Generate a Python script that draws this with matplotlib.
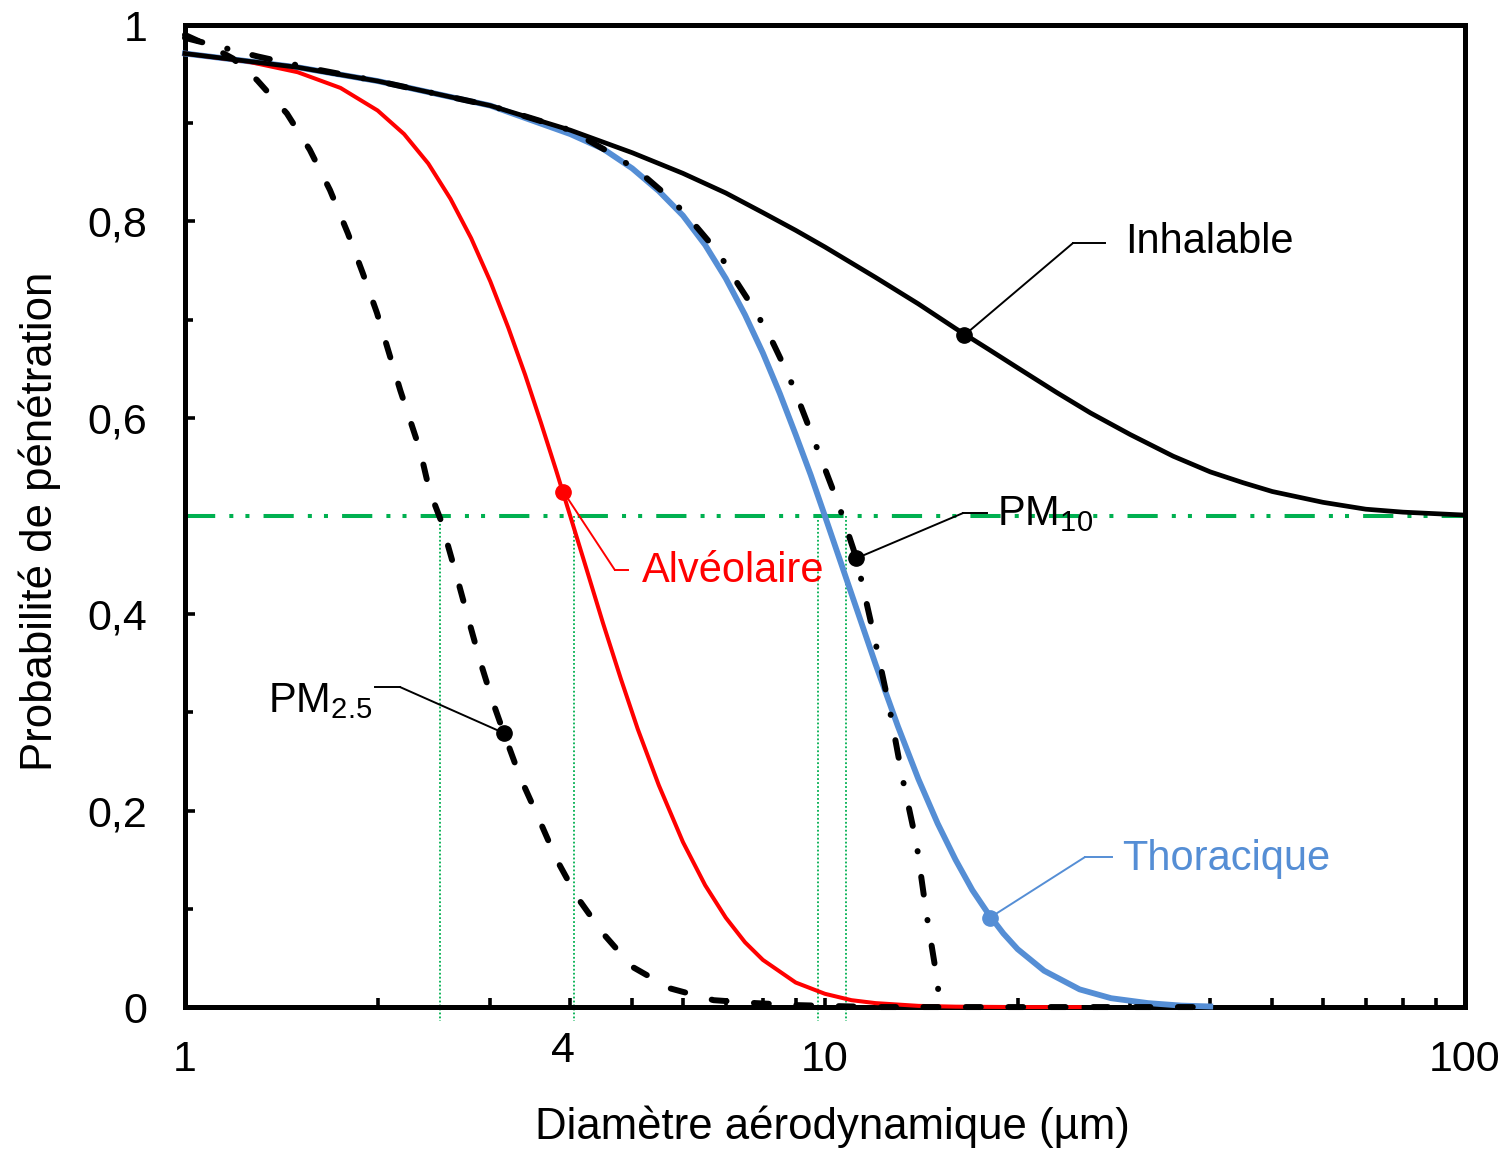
import matplotlib
matplotlib.use("Agg")
import matplotlib.pyplot as plt
from matplotlib.ticker import FixedLocator, NullFormatter
import matplotlib.transforms as mtransforms

plt.rcParams["font.family"] = ["Liberation Sans", "DejaVu Sans"]
plt.rcParams["mathtext.default"] = "regular"

# ---- data (diameter in um, penetration probability) ----
INH_D = [1, 1.5, 2, 3, 4, 5, 6, 7, 8, 9, 10, 12, 14, 16, 18, 20, 23, 26, 30,
         35, 40, 45, 50, 60, 70, 80, 100]
INH_P = [0.971, 0.957, 0.943, 0.918, 0.893, 0.870, 0.849, 0.829, 0.809, 0.791,
         0.774, 0.743, 0.716, 0.691, 0.670, 0.651, 0.626, 0.605, 0.583, 0.561,
         0.545, 0.534, 0.525, 0.514, 0.507, 0.504, 0.501]

THO_D = [1, 1.5, 2, 3, 4, 4.5, 5, 5.5, 6, 6.5, 7, 7.5, 8, 8.5, 9, 9.5, 10, 11,
         12, 13, 14, 15, 16, 17, 18, 19, 20, 22, 25, 28, 32, 36, 40]
THO_P = [0.971, 0.957, 0.943, 0.918, 0.889, 0.874, 0.854, 0.831, 0.806, 0.776,
         0.742, 0.705, 0.666, 0.625, 0.583, 0.542, 0.500, 0.421, 0.349, 0.286,
         0.232, 0.187, 0.150, 0.119, 0.095, 0.075, 0.059, 0.037, 0.018, 0.009,
         0.004, 0.0015, 0.0006]

ALV_D = [1, 1.25, 1.5, 1.75, 2, 2.2, 2.4, 2.6, 2.8, 3, 3.2, 3.4, 3.6, 3.8, 4,
         4.2, 4.5, 4.8, 5.1, 5.5, 6, 6.5, 7, 7.5, 8, 9, 10, 11, 12, 14, 16, 20, 25]
ALV_P = [0.971, 0.963, 0.952, 0.936, 0.913, 0.889, 0.859, 0.823, 0.783, 0.739,
         0.692, 0.644, 0.595, 0.547, 0.500, 0.455, 0.391, 0.334, 0.283, 0.226,
         0.168, 0.124, 0.091, 0.066, 0.048, 0.025, 0.0135, 0.007, 0.004, 0.0012,
         0.0004, 0.0, 0.0]

PM25_D = [1, 1.106, 1.188, 1.296, 1.443, 1.567, 1.685, 1.797, 1.897, 1.995,
          2.17, 2.33, 2.41, 2.51, 2.66, 2.77, 2.89, 3.03, 3.15, 3.34, 3.56, 3.81,
          4.1, 4.5, 5.0, 5.73, 6.7, 7.8, 9.0, 12, 20, 40]
PM25_P = [0.990, 0.977, 0.966, 0.944, 0.910, 0.873, 0.832, 0.788, 0.747, 0.707,
          0.628, 0.567, 0.526, 0.496, 0.438, 0.396, 0.353, 0.310, 0.279, 0.234,
          0.194, 0.150, 0.112, 0.075, 0.041, 0.019, 0.007, 0.004, 0.002, 0.0,
          0.0, 0.0]

PM10_D = [1, 1.3, 1.6, 2, 3, 4, 4.76, 5.27, 5.79, 6.31, 6.82, 7.3, 7.8, 8.3,
          8.76, 9.07, 9.45, 10.5, 11.2, 11.96, 12.6, 13.2, 13.9, 14.4, 15.0, 15.1]
PM10_P = [0.987, 0.968, 0.955, 0.943, 0.918, 0.893, 0.865, 0.844, 0.821, 0.794,
          0.768, 0.737, 0.708, 0.676, 0.644, 0.620, 0.590, 0.512, 0.457, 0.375,
          0.306, 0.235, 0.167, 0.096, 0.025, 0.0]

CUT_LEVEL = 0.5
CUT_D = [2.5, 4.05, 9.75, 10.8]

# labelled points on the curves
MARK_INH = (16.5, 0.684)
MARK_PM10 = (11.2, 0.457)
MARK_PM25 = (3.15, 0.279)
MARK_ALV = (3.9, 0.525)
MARK_THO = (18.1, 0.091)

Y_TICKS = [0, 0.2, 0.4, 0.6, 0.8, 1]
Y_TICKLABELS = ["0", "0,2", "0,4", "0,6", "0,8", "1"]
X_TICKS = [1, 10, 100]
X_TICKLABELS = ["1", "10", "100"]

BLUE = "#558ED5"
RED = "#FF0000"
GREEN = "#00B050"
FS_TICK = 31
FS_LABEL = 31.5
FS_NOTE = 30

fig = plt.figure(figsize=(15.11, 11.5), dpi=100)
ax = fig.add_axes([0.1224, 0.1243, 0.8471, 0.8539])
ax.set_xscale("log")
ax.set_xlim(1, 100)
ax.set_ylim(0, 1)

# 50 % reference lines
ax.axhline(CUT_LEVEL, color=GREEN, lw=2.9, zorder=3,
           linestyle=(0, (7.5, 3.5, 1, 3, 1, 3.5)), dash_capstyle="butt")
for d in CUT_D:
    ax.plot([d, d], [CUT_LEVEL, -0.014], color=GREEN, lw=1.3, linestyle=(0, (1, 1.2)),
            clip_on=False, zorder=2.6)

# curves
ax.plot(THO_D, THO_P, color=BLUE, lw=4.2, zorder=4, clip_on=False)
ax.plot(ALV_D, ALV_P, color=RED, lw=2.9, zorder=4.2, clip_on=False)
ax.plot(INH_D, INH_P, color="black", lw=3.4, zorder=4.4, clip_on=False)
ax.plot(PM25_D, PM25_P, color="black", lw=4.3, zorder=4.6, clip_on=False,
        linestyle=(0, (2.5, 4.6)), dash_capstyle="round")
ax.plot(PM10_D, PM10_P, color="black", lw=4.3, zorder=4.6, clip_on=False,
        linestyle=(0, (3.0, 4.3, 0.05, 4.3)), dash_capstyle="round")

# labels with leader lines: marker, elbow (axes frac), end of tail, text position
labels = [
    (MARK_INH, "black", (0.6938, 0.778), 0.7188, (0.7344, 0.768), "Inhalable", "left"),
    (MARK_PM10, "black", (0.6078, 0.503), 0.6266, (0.6344, 0.4908), "PM$_{10}$", "left"),
    (MARK_PM25, "black", (0.168, 0.3259), 0.1484, (0.1460, 0.3004), "PM$_{2.5}$", "right"),
    (MARK_ALV, RED, (0.3359, 0.445), 0.3461, (0.357, 0.4328), "Alvéolaire", "left"),
    (MARK_THO, BLUE, (0.7031, 0.1527), 0.7242, (0.732, 0.1395), "Thoracique", "left"),
]
for (mx, my), col, (ex, ey), tail, (tx, ty), txt, ha in labels:
    ax.plot([mx], [my], "o", color=col, ms=11, zorder=6, clip_on=False)
    ax.annotate("", xy=(mx, my), xycoords="data", xytext=(ex, ey),
                textcoords="axes fraction",
                arrowprops=dict(arrowstyle="-", color=col, lw=1.4,
                                shrinkA=0, shrinkB=0), zorder=5)
    ax.plot([ex, tail], [ey, ey], color=col, lw=1.4, transform=ax.transAxes,
            clip_on=False, zorder=5)
    ax.text(tx, ty, txt, color=col, fontsize=FS_NOTE, ha=ha, va="baseline",
            transform=ax.transAxes, zorder=7)

# axes styling
for sp in ax.spines.values():
    sp.set_linewidth(3.6)
    sp.set_zorder(3.5)

ax.xaxis.set_major_locator(FixedLocator(X_TICKS))
ax.xaxis.set_minor_locator(FixedLocator([2, 3, 4, 5, 6, 7, 8, 9,
                                         20, 30, 40, 50, 60, 70, 80, 90]))
ax.xaxis.set_minor_formatter(NullFormatter())
ax.set_xticklabels(X_TICKLABELS)
ax.set_yticks(Y_TICKS)
ax.set_yticklabels(Y_TICKLABELS)
ax.yaxis.set_minor_locator(FixedLocator([0.1, 0.3, 0.5, 0.7, 0.9]))

ax.tick_params(axis="both", which="both", direction="in", width=2.6, color="black")
ax.tick_params(axis="both", which="major", length=7.5, labelsize=FS_TICK)
ax.tick_params(axis="both", which="minor", length=6)
ax.tick_params(axis="x", which="major", pad=24, length=6.5)
ax.tick_params(axis="x", which="minor", length=6.5)
ax.tick_params(axis="y", which="major", pad=27)

# the "4" label under the axis
ax.text(3.9, -0.045, "4", fontsize=FS_TICK, ha="center", va="center",
        transform=mtransforms.blended_transform_factory(ax.transData, ax.transAxes))

ax.set_xlabel("Diamètre aérodynamique (µm)", fontsize=FS_LABEL)
ax.xaxis.set_label_coords(0.506, -0.100)
ax.set_ylabel("Probabilité de pénétration", fontsize=FS_LABEL)
ax.yaxis.set_label_coords(-0.097, 0.495)

fig.savefig("out.png", dpi=100)
